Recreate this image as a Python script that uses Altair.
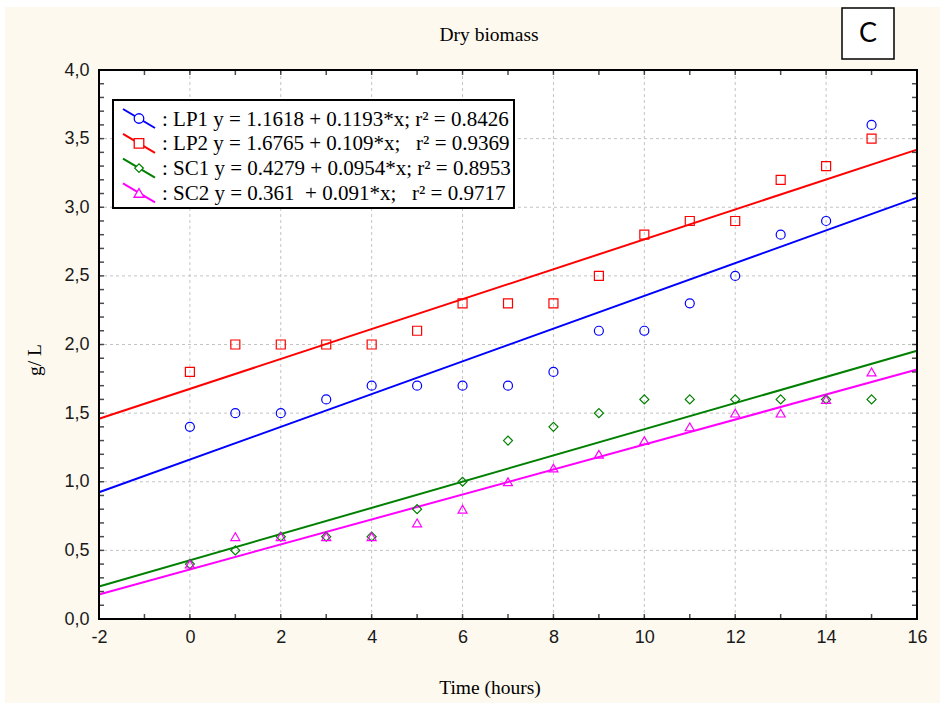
import altair as alt
import pandas as pd

# ---------------- data ----------------
hours = list(range(16))
lp1 = [1.4, 1.5, 1.5, 1.6, 1.7, 1.7, 1.7, 1.7, 1.8, 2.1, 2.1, 2.3, 2.5, 2.8, 2.9, 3.6]
lp2 = [1.8, 2.0, 2.0, 2.0, 2.0, 2.1, 2.3, 2.3, 2.3, 2.5, 2.8, 2.9, 2.9, 3.2, 3.3, 3.5]
sc1 = [0.4, 0.5, 0.6, 0.6, 0.6, 0.8, 1.0, 1.3, 1.4, 1.5, 1.6, 1.6, 1.6, 1.6, 1.6, 1.6]
sc2 = [0.4, 0.6, 0.6, 0.6, 0.6, 0.7, 0.8, 1.0, 1.1, 1.2, 1.3, 1.4, 1.5, 1.5, 1.6, 1.8]

series = ["LP1", "LP2", "SC1", "SC2"]
colors = ["#0000ff", "#ff0000", "#008000", "#ff00ff"]
shapes = ["circle", "square", "diamond", "triangle-up"]
sizes = [81, 81, 64, 90]
NB = "\u00a0"
legend_labels = [
    ": LP1 y = 1.1618 + 0.1193*x; r² = 0.8426",
    ": LP2 y = 1.6765 + 0.109*x;" + NB * 3 + "r² = 0.9369",
    ": SC1 y = 0.4279 + 0.0954*x; r² = 0.8953",
    ": SC2 y = 0.361" + NB * 2 + "+ 0.091*x;" + NB * 3 + "r² = 0.9717",
]

x_ticks_major = [-2, 0, 2, 4, 6, 8, 10, 12, 14, 16]
x_ticks_minor = list(range(-2, 17))
y_ticks_major = [0, 0.5, 1.0, 1.5, 2.0, 2.5, 3.0, 3.5, 4.0]
y_ticks_minor = [round(i / 10, 1) for i in range(41)]

rows = []
for name, vals in zip(series, [lp1, lp2, sc1, sc2]):
    for h, v in zip(hours, vals):
        rows.append({"hour": h, "value": v, "series": name})
df = pd.DataFrame(rows)

W, H = 818, 549
XDOM = [-2, 16]
YDOM = [0, 4]
one = pd.DataFrame({"k": [0]})
SERIF = "Liberation Serif"
SANS = "Liberation Sans"

xs = alt.Scale(domain=XDOM, nice=False, zero=False)
ys = alt.Scale(domain=YDOM, nice=False, zero=False)
cscale = alt.Scale(domain=series, range=colors)

xaxis = alt.Axis(values=x_ticks_major, domain=False, ticks=False, grid=False, title=None,
                 labelFont=SANS, labelFontSize=18, labelColor="#1a1a1a", labelFlush=False,
                 labelPadding=9, labelExpr="'' + datum.value", zindex=1)
yaxis = alt.Axis(values=y_ticks_major, domain=False, ticks=False, grid=False, title=None,
                 labelFont=SANS, labelFontSize=18, labelColor="#1a1a1a", labelFlush=False,
                 labelPadding=10,
                 labelExpr="replace(format(datum.value, '.1f'), '.', ',')", zindex=1)


def X(f):
    return alt.X(f, scale=xs, axis=xaxis, title=None)


def Y(f):
    return alt.Y(f, scale=ys, axis=yaxis, title=None)


layers = []

# background cream frame and white plot area
layers.append(alt.Chart(one).mark_rect(color="#fdf9ef").encode(
    x=alt.value(-94), x2=alt.value(841), y=alt.value(-63), y2=alt.value(633)))
layers.append(alt.Chart(one).mark_rect(color="white").encode(
    x=alt.value(0), x2=alt.value(W), y=alt.value(0), y2=alt.value(H)))

# grid
gx = pd.DataFrame({"gx": x_ticks_major})
gy = pd.DataFrame({"gy": y_ticks_major})
layers.append(alt.Chart(gx).mark_rule(color="#c4c4c4", strokeDash=[3, 3], strokeWidth=1).encode(
    x=X("gx:Q")))
layers.append(alt.Chart(gy).mark_rule(color="#c4c4c4", strokeDash=[3, 3], strokeWidth=1).encode(
    y=Y("gy:Q")))

base = alt.Chart(df)

# regression lines
reg = base.transform_regression(
    "hour", "value", groupby=["series"], method="linear", extent=XDOM
).mark_line(strokeWidth=2).encode(
    x=X("hour:Q"),
    y=Y("value:Q"),
    color=alt.Color("series:N", scale=cscale, legend=None),
)
layers.append(reg)

# points
pts = base.mark_point(filled=False, strokeWidth=1.2, opacity=1).encode(
    x=X("hour:Q"),
    y=Y("value:Q"),
    color=alt.Color("series:N", scale=cscale, legend=None),
    shape=alt.Shape("series:N", scale=alt.Scale(domain=series, range=shapes), legend=None),
    size=alt.Size("series:N", scale=alt.Scale(domain=series, range=sizes), legend=None),
)
layers.append(pts)

# inward ticks
tx = pd.DataFrame({"tx": x_ticks_minor})
ty = pd.DataFrame({"ty": y_ticks_minor})
for yv in [H - 2.5, 2.5]:
    layers.append(alt.Chart(tx).mark_tick(orient="vertical", size=5, thickness=1.5, color="black").encode(
        x=X("tx:Q"), y=alt.value(yv)))
for xv in [2.5, W - 2.5]:
    layers.append(alt.Chart(ty).mark_tick(orient="horizontal", size=5, thickness=1.5, color="black").encode(
        y=Y("ty:Q"), x=alt.value(xv)))

# plot border
layers.append(alt.Chart(one).mark_rect(fillOpacity=0, stroke="black", strokeWidth=2).encode(
    x=alt.value(0), x2=alt.value(W), y=alt.value(0), y2=alt.value(H)))

# legend box
LX0, LX1, LY0, LY1 = 14, 415, 30, 138
layers.append(alt.Chart(one).mark_rect(fill="white", stroke="black", strokeWidth=2).encode(
    x=alt.value(LX0), x2=alt.value(LX1), y=alt.value(LY0), y2=alt.value(LY1)))
row_y = [48.5, 73.3, 98.1, 122.9]
for i, (s, c, shp, lab) in enumerate(zip(series, colors, shapes, legend_labels)):
    ry = row_y[i]
    layers.append(alt.Chart(one).mark_rule(color=c, strokeWidth=2).encode(
        x=alt.value(24), x2=alt.value(56), y=alt.value(ry - 9.5), y2=alt.value(ry + 9.5)))
    layers.append(alt.Chart(one).mark_point(shape=shp, fill="white", fillOpacity=1, stroke=c,
                                            strokeWidth=1.3, size=sizes[i] + 10, opacity=1).encode(
        x=alt.value(40), y=alt.value(ry)))
    layers.append(alt.Chart(one).mark_text(font=SERIF, fontSize=21, align="left", baseline="middle",
                                           color="black").encode(
        x=alt.value(63), y=alt.value(ry + 1), text=alt.value(lab)))

# title and axis titles
layers.append(alt.Chart(one).mark_text(font=SERIF, fontSize=19.5, color="black", baseline="middle").encode(
    x=alt.value(390), y=alt.value(-35), text=alt.value("Dry biomass")))
layers.append(alt.Chart(one).mark_text(font=SERIF, fontSize=19.5, color="black", baseline="middle").encode(
    x=alt.value(391), y=alt.value(H + 69), text=alt.value("Time (hours)")))
layers.append(alt.Chart(one).mark_text(font=SERIF, fontSize=19.5, color="black", baseline="middle",
                                       angle=270).encode(
    x=alt.value(-64), y=alt.value(290), text=alt.value("g/ L")))

# "C" panel label
layers.append(alt.Chart(one).mark_rect(fill="white", stroke="black", strokeWidth=1.5).encode(
    x=alt.value(743), x2=alt.value(795), y=alt.value(-62), y2=alt.value(-11)))
layers.append(alt.Chart(one).mark_text(font="Lato", fontSize=27, color="black", baseline="middle").encode(
    x=alt.value(769), y=alt.value(-36), text=alt.value("C")))

chart = alt.layer(*layers).properties(
    width=W, height=H,
    autosize=alt.AutoSizeParams(type="none"),
    padding={"left": 99, "top": 70, "right": 23, "bottom": 87},
    background="white",
).configure_view(stroke=None)

chart.save("out.html", embed_options={"renderer": "svg", "actions": False})
